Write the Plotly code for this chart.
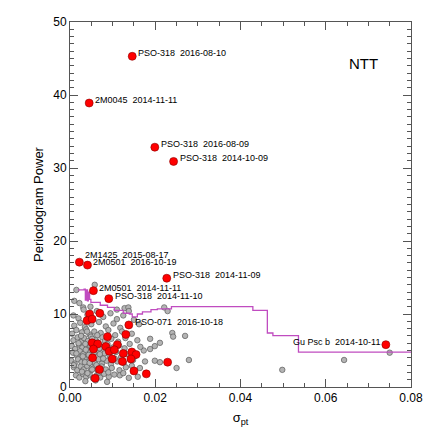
import plotly.graph_objects as go

# gray points: all sources (sigma_pt, periodogram power)
gray_sig = [0.0015, 0.0058, 0.0031, 0.0048, 0.0022, 0.0010, 0.0110, 0.0128, 0.0137, 0.0221, 0.0229,
            0.0008, 0.0020, 0.0032, 0.0041, 0.0063, 0.0078, 0.0095, 0.0110, 0.0125, 0.0138, 0.0150,
            0.0010, 0.0024, 0.0035, 0.0050, 0.0068, 0.0084, 0.0102, 0.0118, 0.0162,
            0.0005, 0.0015, 0.0028, 0.0038, 0.0046, 0.0057, 0.0072, 0.0090, 0.0106, 0.0122, 0.0145, 0.0240, 0.0270,
            0.0008, 0.0018, 0.0026, 0.0033, 0.0042, 0.0049, 0.0060, 0.0066, 0.0076, 0.0082, 0.0097, 0.0113, 0.0130,
            0.0158, 0.0211, 0.0242, 0.0188,
            0.0004, 0.0012, 0.0021, 0.0029, 0.0036, 0.0044, 0.0053, 0.0061, 0.0071, 0.0079, 0.0088, 0.0100, 0.0115,
            0.0128, 0.0140, 0.0173, 0.0188, 0.0199, 0.0165,
            0.0007, 0.0016, 0.0023, 0.0031, 0.0039, 0.0047, 0.0055, 0.0064, 0.0073, 0.0081, 0.0093, 0.0108, 0.0120,
            0.0133, 0.0152,
            0.0003, 0.0011, 0.0019, 0.0027, 0.0034, 0.0043, 0.0050, 0.0058, 0.0067, 0.0075, 0.0086, 0.0096, 0.0111,
            0.0126, 0.0176, 0.0199, 0.0211, 0.0279, 0.0148,
            0.0009, 0.0017, 0.0025, 0.0032, 0.0040, 0.0048, 0.0056, 0.0065, 0.0074, 0.0084, 0.0098, 0.0116, 0.0131,
            0.0164, 0.0250, 0.0498,
            0.0014, 0.0022, 0.0030, 0.0038, 0.0046, 0.0054, 0.0063, 0.0071, 0.0080, 0.0091, 0.0104, 0.0117, 0.0138,
            0.0159, 0.0036, 0.0060, 0.0087, 0.0643, 0.0750,
            0.0026, 0.0040, 0.0052, 0.0064, 0.0037, 0.0048, 0.0059, 0.0069, 0.0030, 0.0044, 0.0057, 0.0070, 0.0035,
            0.0046, 0.0062, 0.0078, 0.0028, 0.0041, 0.0052, 0.0068, 0.0020, 0.0015, 0.0009, 0.0095, 0.0105, 0.0090,
            0.0125, 0.0145]
gray_pow = [13.3, 14.0, 10.9, 11.0, 11.5, 11.8, 10.6, 10.8, 10.9, 10.9, 10.4,
            9.8, 9.4, 10.6, 9.9, 10.4, 9.6, 10.1, 9.3, 9.8, 10.4, 9.2,
            8.4, 8.8, 8.2, 8.6, 8.9, 8.3, 8.7, 8.1, 8.6,
            7.3, 7.8, 7.5, 7.9, 7.2, 7.6, 7.4, 7.8, 7.1, 7.6, 7.3, 7.4, 7.0,
            6.4, 6.8, 6.2, 6.7, 6.3, 6.9, 6.5, 6.1, 6.8, 6.3, 6.6, 6.2, 6.7,
            6.4, 6.05, 6.9, 6.6,
            5.6, 5.2, 5.8, 5.4, 5.9, 5.3, 5.7, 5.1, 5.6, 5.2, 5.9, 5.4, 5.7,
            5.3, 5.9, 5.0, 5.2, 5.6, 5.5,
            4.7, 4.3, 4.9, 4.5, 4.1, 4.8, 4.4, 4.9, 4.2, 4.6, 4.3, 4.8, 4.1,
            4.5, 4.2,
            3.6, 3.2, 3.8, 3.4, 3.9, 3.1, 3.6, 3.3, 3.8, 3.2, 3.6, 3.1, 3.5,
            3.3, 3.5, 3.6, 3.4, 3.7, 3.7,
            2.7, 2.3, 2.8, 2.4, 2.9, 2.2, 2.6, 2.3, 2.8, 2.4, 2.6, 2.3, 2.7,
            2.6, 2.6, 2.35,
            1.6, 1.3, 1.8, 1.4, 1.7, 1.2, 1.6, 1.3, 1.8, 1.4, 1.7, 1.6, 1.25,
            1.4, 0.8, 0.9, 0.7, 3.7, 4.7,
            7.0, 7.6, 6.6, 7.1, 5.1, 5.6, 6.0, 5.3, 4.2, 4.4, 4.7, 4.5, 3.4,
            3.3, 3.0, 3.9, 2.1, 1.9, 2.4, 2.0, 6.0, 4.6, 3.0, 5.0, 3.9, 2.0,
            1.9, 2.9]

# red points without labels
red_sig = [0.0046, 0.0070, 0.0040, 0.0052, 0.0131, 0.0088, 0.0052, 0.0065, 0.0084, 0.0111, 0.0055, 0.0092,
           0.0104, 0.0125, 0.0145, 0.0155, 0.0143, 0.0099, 0.0123, 0.0053, 0.0229, 0.0069, 0.0150, 0.0179,
           0.0059]
red_pow = [10.0, 10.1, 9.1, 9.3, 7.2, 6.9, 6.05, 5.9, 5.55, 5.8, 5.2, 4.9,
           5.1, 4.6, 4.8, 4.45, 3.85, 3.85, 3.5, 4.0, 3.4, 2.4, 2.2, 1.8,
           1.2]

# labelled red points
lab_names = ["PSO-318  2016-08-10", "2M0045  2014-11-11", "PSO-318  2016-08-09", "PSO-318  2014-10-09",
             "2M1425  2015-08-17", "2M0501  2016-10-19", "PSO-318  2014-11-09", "2M0501  2014-11-11",
             "PSO-318  2014-11-10", "PSO-071  2016-10-18", "Gu Psc b  2014-10-11"]
lab_sig = [0.0146, 0.0045, 0.0199, 0.0243, 0.0022, 0.0041, 0.0227, 0.0055, 0.0091, 0.0138, 0.0741]
lab_pow = [45.3, 38.9, 32.85, 30.9, 17.1, 16.7, 14.9, 13.2, 12.1, 8.5, 5.8]

# detection threshold (step)
thr_sig = [0.0019, 0.0033, 0.0036, 0.0038, 0.0041, 0.0043, 0.0046, 0.0049, 0.0071, 0.0088, 0.0104,
           0.0125, 0.0140, 0.0146, 0.0158, 0.0170, 0.0190, 0.0205, 0.0238, 0.0429, 0.0463, 0.0476,
           0.0536, 0.0800]
thr_pow = [13.3, 13.4, 11.9, 13.3, 11.8, 13.0, 12.0, 11.6, 11.2, 10.9, 10.5,
           10.1, 10.0, 9.6, 10.0, 10.3, 10.6, 10.7, 11.0, 10.5, 7.4, 7.05,
           4.77, 4.77]

FONT = "Liberation Sans, Arial, Helvetica, sans-serif"

fig = go.Figure()
fig.add_trace(go.Scatter(x=gray_sig, y=gray_pow, mode="markers",
                         marker=dict(size=5.5, color="#b4b4b4", line=dict(color="#5a5a5a", width=0.7))))
fig.add_trace(go.Scatter(x=thr_sig, y=thr_pow, mode="lines", line_shape="hv",
                         line=dict(color="#c04cc0", width=1.3)))
fig.add_trace(go.Scatter(x=red_sig + lab_sig, y=red_pow + lab_pow, mode="markers",
                         marker=dict(size=8, color="#ff0000", line=dict(color="#8a0000", width=0.6))))

for n, sx, py in zip(lab_names, lab_sig, lab_pow):
    left = n.startswith("Gu")
    ysh = 7 if n.startswith("2M1425") else 3
    fig.add_annotation(x=sx, y=py, text=n.replace(" ", "\u00a0"), showarrow=False,
                       xanchor="right" if left else "left", yanchor="middle",
                       xshift=-4 if left else 4, yshift=ysh,
                       font=dict(family=FONT, size=9, color="black"))

fig.add_annotation(x=0.909, y=0.914, xref="paper", yref="paper", text="NTT", showarrow=False,
                   font=dict(family=FONT, size=15, color="black"))

axis_common = dict(showgrid=False, zeroline=False, showline=True, linecolor="#555555", linewidth=1,
                   mirror="allticks", ticks="inside", tickcolor="#555555", ticklen=8,
                   automargin=False,
                   tickfont=dict(family=FONT, size=12, color="black"))

fig.update_xaxes(range=[0, 0.08], dtick=0.02, tickformat=".2f",
                 minor=dict(dtick=0.005, ticks="inside", ticklen=4, tickcolor="#555555"),
                 title=dict(text="σ<sub>pt</sub>", font=dict(family=FONT, size=13, color="black"), standoff=8),
                 **axis_common)
fig.update_yaxes(range=[0, 50], dtick=10,
                 minor=dict(dtick=1, ticks="inside", ticklen=4, tickcolor="#555555"),
                 title=dict(text="Periodogram Power", font=dict(family=FONT, size=13, color="black"), standoff=6),
                 **axis_common)

fig.update_layout(width=432, height=432, showlegend=False,
                  margin=dict(l=70, r=21, t=22, b=45),
                  plot_bgcolor="white", paper_bgcolor="white")

# page body margin would shift the figure by 8px
fig.write_html("out.html", config={"displayModeBar": False},
               post_script="document.body.style.margin='0';")
